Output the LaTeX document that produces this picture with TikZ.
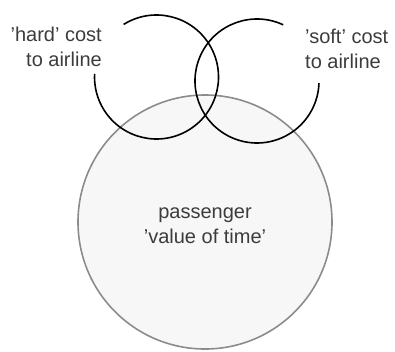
\documentclass[tikz,border=0pt]{standalone}
\usepackage{fontspec}
\setmainfont{Liberation Sans}
\definecolor{txt}{HTML}{3C3C3C}
\definecolor{bigfill}{HTML}{F7F7F7}
\definecolor{bigline}{HTML}{8C8C8C}
\tikzset{
  lbl/.style={inner sep=0pt, text=txt, font=\fontsize{20}{25}\selectfont},
  arcline/.style={draw=black, line width=1.6pt},
}
\begin{document}
\begin{tikzpicture}[x=1pt,y=-1pt]
\useasboundingbox (0,0) rectangle (395,351);
% big passenger circle
\coordinate (pc) at (205,222);
\draw[bigline, fill=bigfill, line width=1.6pt] (pc) circle[radius=127];
% hard cost circle (open at upper left)
\coordinate (hc) at (156.5,77);
\draw[arcline] (hc) ++(-122:62) arc[start angle=-122, end angle=183, radius=62];
% soft cost circle (open at upper right)
\coordinate (sc) at (257,81);
\draw[arcline] (sc) ++(-65:62) arc[start angle=-65, end angle=-358, radius=62];
% labels
\node[lbl, align=right, anchor=north east] (hard) at (102,27) {'hard' cost\\to airline};
\node[lbl, align=left, anchor=north west] (soft) at (305,29) {'soft' cost\\to airline};
\node[lbl, align=center] (pass) at (205,226) {passenger\\'value of time'};
\end{tikzpicture}
\end{document}
